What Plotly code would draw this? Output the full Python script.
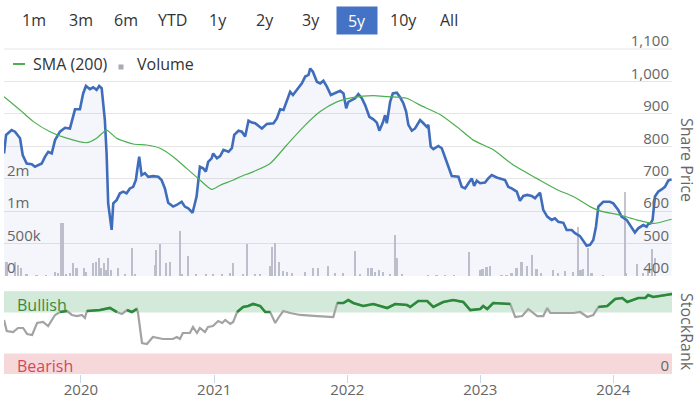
import pandas as pd
import plotly.graph_objects as go

# ---------------- data (decimal years) ----------------
price_t = [2019.422, 2019.437, 2019.479, 2019.504, 2019.542, 2019.562, 2019.592, 2019.630, 2019.654, 2019.705,
           2019.730, 2019.754, 2019.780, 2019.805, 2019.842, 2019.880, 2019.917, 2019.955, 2019.992, 2020.017,
           2020.038, 2020.068, 2020.092, 2020.118, 2020.137, 2020.156, 2020.180, 2020.193, 2020.205, 2020.218,
           2020.231, 2020.243, 2020.268, 2020.293, 2020.318, 2020.343, 2020.368, 2020.393, 2020.413, 2020.423,
           2020.438, 2020.456, 2020.481, 2020.506, 2020.543, 2020.581, 2020.606, 2020.631, 2020.656, 2020.693,
           2020.719, 2020.757, 2020.781, 2020.806, 2020.839, 2020.869, 2020.894, 2020.919, 2020.939, 2020.956,
           2020.982, 2020.994, 2021.020, 2021.044, 2021.069, 2021.107, 2021.132, 2021.150, 2021.182, 2021.207,
           2021.232, 2021.257, 2021.283, 2021.307, 2021.358, 2021.395, 2021.445, 2021.470, 2021.495, 2021.520,
           2021.545, 2021.570, 2021.591, 2021.621, 2021.658, 2021.683, 2021.708, 2021.721, 2021.741, 2021.771,
           2021.796, 2021.820, 2021.846, 2021.876, 2021.908, 2021.946, 2021.971, 2021.991, 2022.008, 2022.034,
           2022.059, 2022.083, 2022.109, 2022.134, 2022.166, 2022.196, 2022.222, 2022.241, 2022.267, 2022.284,
           2022.297, 2022.322, 2022.342, 2022.372, 2022.397, 2022.422, 2022.442, 2022.459, 2022.485, 2022.509,
           2022.547, 2022.572, 2022.597, 2022.609, 2022.627, 2022.647, 2022.684, 2022.710, 2022.735, 2022.760,
           2022.785, 2022.835, 2022.860, 2022.885, 2022.910, 2022.935, 2022.953, 2022.973, 2022.998, 2023.035,
           2023.060, 2023.086, 2023.123, 2023.186, 2023.210, 2023.236, 2023.274, 2023.298, 2023.323, 2023.353,
           2023.386, 2023.411, 2023.449, 2023.473, 2023.503, 2023.536, 2023.561, 2023.586, 2023.624, 2023.649,
           2023.687, 2023.712, 2023.749, 2023.774, 2023.799, 2023.824, 2023.849, 2023.869, 2023.887, 2023.899,
           2023.924, 2023.974, 2023.999, 2024.037, 2024.062, 2024.100, 2024.125, 2024.162, 2024.187, 2024.225,
           2024.250, 2024.262, 2024.280, 2024.295, 2024.313, 2024.337, 2024.363, 2024.388, 2024.413, 2024.438]
price_v = [778, 835, 850, 845, 825, 773, 747, 745, 737, 747,
           768, 783, 778, 819, 845, 857, 855, 914, 914, 963,
           986, 976, 982, 974, 986, 979, 881, 778, 624, 573,
           542, 624, 634, 655, 660, 655, 670, 675, 696, 727,
           768, 711, 717, 706, 708, 706, 696, 670, 626, 614,
           619, 629, 614, 609, 595, 645, 737, 732, 722, 752,
           763, 778, 763, 770, 789, 783, 794, 835, 848, 845,
           830, 879, 873, 871, 855, 869, 871, 886, 914, 912,
           943, 968, 958, 974, 994, 1015, 1020, 1040, 1030, 999,
           994, 1002, 984, 958, 965, 971, 963, 917, 937, 943,
           948, 961, 948, 927, 891, 883, 873, 848, 873, 896,
           871, 937, 963, 965, 951, 932, 907, 866, 848, 855,
           881, 871, 860, 866, 799, 791, 801, 794, 768, 737,
           708, 706, 675, 670, 686, 701, 678, 694, 686, 688,
           701, 711, 704, 696, 675, 670, 660, 632, 647, 650,
           647, 640, 657, 604, 583, 573, 578, 567, 564, 542,
           542, 532, 523, 506, 493, 496, 511, 552, 614, 619,
           629, 629, 624, 604, 583, 573, 557, 534, 547, 557,
           552, 560, 562, 573, 645, 660, 667, 675, 694, 698]

sma_t = [2019.422, 2019.542, 2019.642, 2019.767, 2019.893, 2020.043, 2020.118, 2020.193, 2020.268, 2020.393,
         2020.494, 2020.594, 2020.693, 2020.794, 2020.894, 2020.982, 2021.044, 2021.144, 2021.195, 2021.295,
         2021.420, 2021.545, 2021.670, 2021.796, 2021.921, 2022.046, 2022.196, 2022.297, 2022.447, 2022.547,
         2022.697, 2022.823, 2022.947, 2023.098, 2023.248, 2023.424, 2023.574, 2023.699, 2023.824, 2023.899,
         2024.049, 2024.175, 2024.300, 2024.438]
sma_v = [953, 912, 876, 845, 825, 811, 825, 850, 825, 807,
         804, 794, 768, 732, 696, 667, 680, 696, 706, 722,
         747, 804, 860, 907, 937, 951, 956, 953, 948, 927,
         898, 860, 819, 789, 742, 701, 667, 645, 614, 601,
         588, 573, 562, 575]

vol_t = [2019.442, 2019.504, 2019.529, 2019.554, 2019.592, 2019.667, 2019.742, 2019.805, 2019.830, 2019.850,
         2019.867, 2019.887, 2019.917, 2019.942, 2019.968, 2020.023, 2020.043, 2020.092, 2020.118, 2020.135,
         2020.156, 2020.173, 2020.188, 2020.205, 2020.226, 2020.280, 2020.331, 2020.385, 2020.406, 2020.556,
         2020.569, 2020.594, 2020.644, 2020.669, 2020.744, 2020.764, 2020.806, 2020.869, 2020.944, 2020.994,
         2021.057, 2021.120, 2021.144, 2021.220, 2021.250, 2021.307, 2021.345, 2021.420, 2021.437, 2021.457,
         2021.490, 2021.515, 2021.545, 2021.583, 2021.683, 2021.745, 2021.782, 2021.858, 2021.908, 2021.971,
         2022.059, 2022.097, 2022.159, 2022.184, 2022.209, 2022.241, 2022.269, 2022.322, 2022.359, 2022.377,
         2022.412, 2022.609, 2022.672, 2022.735, 2022.802, 2022.917, 2022.998, 2023.018, 2023.048, 2023.073,
         2023.161, 2023.199, 2023.236, 2023.274, 2023.311, 2023.353, 2023.391, 2023.424, 2023.461, 2023.549,
         2023.586, 2023.641, 2023.699, 2023.737, 2023.755, 2023.774, 2023.812, 2023.837, 2023.924, 2024.087,
         2024.100, 2024.183, 2024.225, 2024.262, 2024.292, 2024.313]
vol_v = [220, 220, 170, 120, 20, 15, 15, 60, 40, 810,
         810, 30, 40, 195, 120, 120, 60, 195, 220, 270,
         120, 195, 90, 270, 90, 120, 20, 425, 20, 170,
         400, 500, 195, 220, 700, 20, 310, 20, 20, 20,
         20, 40, 205, 20, 500, 20, 20, 150, 450, 510,
         220, 70, 60, 50, 60, 120, 120, 150, 40, 40,
         385, 30, 120, 125, 60, 90, 60, 30, 630, 270,
         30, 15, 15, 15, 15, 365, 90, 110, 140, 155,
         15, 15, 40, 120, 210, 150, 320, 110, 40, 90,
         40, 80, 60, 750, 90, 110, 425, 40, 15, 1300,
         40, 185, 40, 90, 410, 270]  # thousands

sr_t = [2019.422, 2019.442, 2019.490, 2019.527, 2019.565, 2019.595, 2019.633, 2019.670, 2019.715, 2019.753,
        2019.805, 2019.842, 2019.895, 2019.932, 2019.970, 2020.008, 2020.030, 2020.045, 2020.143, 2020.218,
        2020.271, 2020.308, 2020.346, 2020.383, 2020.421, 2020.429, 2020.459, 2020.496, 2020.541, 2020.616,
        2020.691, 2020.721, 2020.744, 2020.766, 2020.819, 2020.842, 2020.872, 2020.894, 2020.932, 2020.955,
        2020.992, 2021.029, 2021.060, 2021.082, 2021.120, 2021.142, 2021.172, 2021.217, 2021.255, 2021.292,
        2021.345, 2021.383, 2021.420, 2021.458, 2021.481, 2021.518, 2021.571, 2021.646, 2021.774, 2021.894,
        2021.924, 2021.970, 2022.007, 2022.045, 2022.120, 2022.195, 2022.300, 2022.360, 2022.450, 2022.473,
        2022.533, 2022.600, 2022.646, 2022.721, 2022.796, 2022.871, 2022.924, 2022.999, 2023.022, 2023.052,
        2023.097, 2023.225, 2023.262, 2023.315, 2023.360, 2023.428, 2023.473, 2023.503, 2023.526, 2023.601,
        2023.699, 2023.751, 2023.804, 2023.849, 2023.887, 2023.954, 2024.014, 2024.067, 2024.105, 2024.150,
        2024.187, 2024.240, 2024.262, 2024.300, 2024.375, 2024.443]
sr_v = [65.9, 52.4, 51.2, 56.1, 56.1, 48.8, 47.6, 62.2, 63.4, 58.5,
        72.0, 75.6, 76.8, 72.0, 70.7, 72.0, 68.3, 76.8, 78.0, 80.5,
        75.6, 73.2, 78.0, 75.6, 79.3, 74.4, 37.8, 36.6, 45.1, 42.7,
        42.7, 45.1, 42.7, 50.0, 50.0, 57.3, 50.0, 56.1, 51.2, 57.3,
        58.5, 64.6, 62.2, 65.9, 61.0, 63.4, 75.6, 81.7, 82.9, 85.4,
        82.9, 75.6, 75.6, 62.2, 68.3, 76.8, 74.4, 72.0, 70.7, 69.5,
        86.6, 86.6, 90.2, 86.6, 82.9, 85.4, 80.5, 85.4, 84.1, 81.7,
        89.0, 89.0, 81.7, 87.8, 90.2, 87.8, 78.0, 79.3, 82.9, 79.3,
        86.6, 85.4, 69.5, 70.7, 79.3, 70.7, 70.7, 80.5, 74.4, 74.4,
        74.4, 75.6, 69.5, 72.0, 81.7, 82.9, 91.5, 92.7, 87.8, 90.2,
        92.7, 92.7, 96.3, 93.9, 96.3, 97.6]

years = [2020, 2021, 2022, 2023, 2024]
price_ticks = [400, 500, 600, 700, 800, 900, 1000, 1100]
vol_ticks = [0, 500000, 1000000, 1500000]
vol_tick_text = ["0", "500k", "1m", "2m"]
buttons = ["1m", "3m", "6m", "YTD", "1y", "2y", "3y", "5y", "10y", "All"]
active_button = "5y"
BULL_LEVEL = 75


def to_date(t):
    y = int(t)
    return pd.Timestamp(y, 1, 1) + pd.Timedelta(days=(t - y) * 365.25)


px_dates = [to_date(t) for t in price_t]
sma_dates = [to_date(t) for t in sma_t]
vol_dates = [to_date(t) for t in vol_t]
sr_dates = [to_date(t) for t in sr_t]
vol_abs = [v * 1000 for v in vol_v]
sr_green = [v if v >= BULL_LEVEL else None for v in sr_v]

FONT = "Open Sans"
GRAY_TXT = "#666666"

fig = go.Figure()

fig.add_trace(go.Bar(x=vol_dates, y=vol_abs, yaxis="y", xaxis="x",
                     marker=dict(color="#c4c5cc", line=dict(width=0)),
                     width=4.5 * 86400000, hoverinfo="skip", showlegend=False))
fig.add_trace(go.Scatter(x=px_dates, y=price_v, yaxis="y2", xaxis="x", mode="lines",
                         line=dict(color="#3f6dbb", width=2.6), fill="tozeroy",
                         fillcolor="rgba(63,109,187,0.06)", showlegend=False))
fig.add_trace(go.Scatter(x=sma_dates, y=sma_v, yaxis="y2", xaxis="x", mode="lines",
                         line=dict(color="#4caf50", width=1.2, shape="spline", smoothing=0.6),
                         showlegend=False))
fig.add_trace(go.Scatter(x=sr_dates, y=sr_v, yaxis="y3", xaxis="x", mode="lines",
                         line=dict(color="#a3a3a3", width=2.2), showlegend=False))
fig.add_trace(go.Scatter(x=sr_dates, y=sr_green, yaxis="y3", xaxis="x", mode="lines",
                         line=dict(color="#2a8a3a", width=2.6), connectgaps=False, showlegend=False))

L, R, T, B = 4, 25, 49, 25
W, H = 697, 399
pw, ph = W - L - R, H - T - B


def pxx(x):
    return (x - L) / pw


def pxy(y):
    return (H - B - y) / ph


price_dom = [pxy(276), 1.0]
sr_dom = [0.0, pxy(292)]

annotations = []
shapes = []

btn_x = [34, 81, 126, 172, 218, 265, 311, 357, 403, 449]
for lab, bx in zip(buttons, btn_x):
    active = lab == active_button
    ann = dict(text=lab, x=pxx(bx), y=pxy(20), xref="paper", yref="paper",
               showarrow=False, xanchor="center", yanchor="middle",
               font=dict(family=FONT, size=16, color="white" if active else "#333333"))
    if active:
        ann.update(bgcolor="#4472c4", width=38, height=25, borderpad=1)
    annotations.append(ann)

# top border of price panel
shapes.append(dict(type="line", xref="paper", yref="paper", x0=0, x1=1, y0=1, y1=1,
                   line=dict(color="#e6e6e6", width=1), layer="below"))

# legend
shapes.append(dict(type="line", xref="paper", yref="paper", x0=pxx(13), x1=pxx(25),
                   y0=pxy(64), y1=pxy(64), line=dict(color="#4caf50", width=2)))
annotations.append(dict(text="SMA (200)", x=pxx(31), y=pxy(64), xref="paper", yref="paper",
                        showarrow=False, xanchor="left", yanchor="middle",
                        font=dict(family=FONT, size=16, color="#333333")))
shapes.append(dict(type="rect", xref="paper", yref="paper", x0=pxx(118.5), x1=pxx(123.5),
                   y0=pxy(69.5), y1=pxy(64.5), line=dict(width=0), fillcolor="#a9aab2"))
annotations.append(dict(text="Volume", x=pxx(135), y=pxy(64), xref="paper", yref="paper",
                        showarrow=False, xanchor="left", yanchor="middle",
                        font=dict(family=FONT, size=16, color="#333333")))

annotations.append(dict(text="Share Price", x=pxx(687), y=pxy(160), xref="paper", yref="paper",
                        showarrow=False, textangle=90, xanchor="center", yanchor="middle",
                        font=dict(family=FONT, size=16, color=GRAY_TXT)))
annotations.append(dict(text="StockRank", x=pxx(687), y=pxy(332), xref="paper", yref="paper",
                        showarrow=False, textangle=90, xanchor="center", yanchor="middle",
                        font=dict(family=FONT, size=16, color=GRAY_TXT)))

shapes.append(dict(type="rect", xref="paper", yref="y3", x0=0, x1=1, y0=BULL_LEVEL, y1=100,
                   fillcolor="#d3e9da", line=dict(width=0), layer="below"))
shapes.append(dict(type="rect", xref="paper", yref="y3", x0=0, x1=1, y0=0, y1=25,
                   fillcolor="#f6d8da", line=dict(width=0), layer="below"))
shapes.append(dict(type="line", xref="paper", yref="paper", x0=0, x1=1, y0=pxy(291.5), y1=pxy(291.5),
                   line=dict(color="#e6e6e6", width=1), layer="below"))
annotations.append(dict(text="Bullish", x=pxx(15), y=pxy(305), xref="paper", yref="paper",
                        showarrow=False, xanchor="left", yanchor="middle",
                        font=dict(family=FONT, size=16, color="#3a8a3e")))
annotations.append(dict(text="Bearish", x=pxx(15), y=pxy(366), xref="paper", yref="paper",
                        showarrow=False, xanchor="left", yanchor="middle",
                        font=dict(family=FONT, size=16, color="#d2475a")))

fig.update_layout(
    width=W, height=H,
    margin=dict(l=L, r=R, t=T, b=B, pad=0, autoexpand=False),
    paper_bgcolor="white", plot_bgcolor="white",
    showlegend=False, bargap=0,
    font=dict(family=FONT, size=15, color=GRAY_TXT),
    xaxis=dict(type="date", domain=[0, 1], anchor="y3", automargin=False,
               range=[to_date(2019.4215), to_date(2024.441)],
               tickvals=[pd.Timestamp(y, 1, 1) for y in years], ticktext=[str(y) for y in years],
               ticks="outside", ticklen=8, tickcolor="#ccd6eb", tickwidth=1,
               ticklabelstandoff=-6,
               showgrid=False, showline=False, zeroline=False,
               tickfont=dict(family=FONT, size=15, color=GRAY_TXT)),
    yaxis=dict(domain=price_dom, anchor="x", side="left", range=[0, 3500000], automargin=False,
               tickvals=vol_ticks, ticktext=vol_tick_text, ticklabelposition="inside",
               ticklabeloverflow="allow", ticklabelshift=-8, ticks="", showgrid=False,
               zeroline=False, showline=False,
               tickfont=dict(family=FONT, size=15, color=GRAY_TXT)),
    yaxis2=dict(overlaying="y", anchor="x", side="right", range=[400, 1100], automargin=False,
                tickvals=price_ticks, tickformat=",", ticklabelposition="inside",
                ticklabeloverflow="allow", ticklabelshift=-8, ticks="", showgrid=True,
                gridcolor="#e6e6e6", gridwidth=1, zeroline=False, showline=False,
                tickfont=dict(family=FONT, size=15, color=GRAY_TXT)),
    yaxis3=dict(domain=sr_dom, anchor="x", side="right", range=[0, 100], automargin=False,
                tickvals=[0], ticktext=["0"], ticklabelposition="inside", ticklabelshift=-8,
                ticklabeloverflow="allow",
                ticks="", showgrid=False, zeroline=False, showline=False,
                tickfont=dict(family=FONT, size=15, color=GRAY_TXT)),
    annotations=annotations,
    shapes=shapes,
)

fig.write_html("out.html", config={"displayModeBar": False},
               post_script="document.body.style.margin='0px';document.body.style.padding='0px';")
